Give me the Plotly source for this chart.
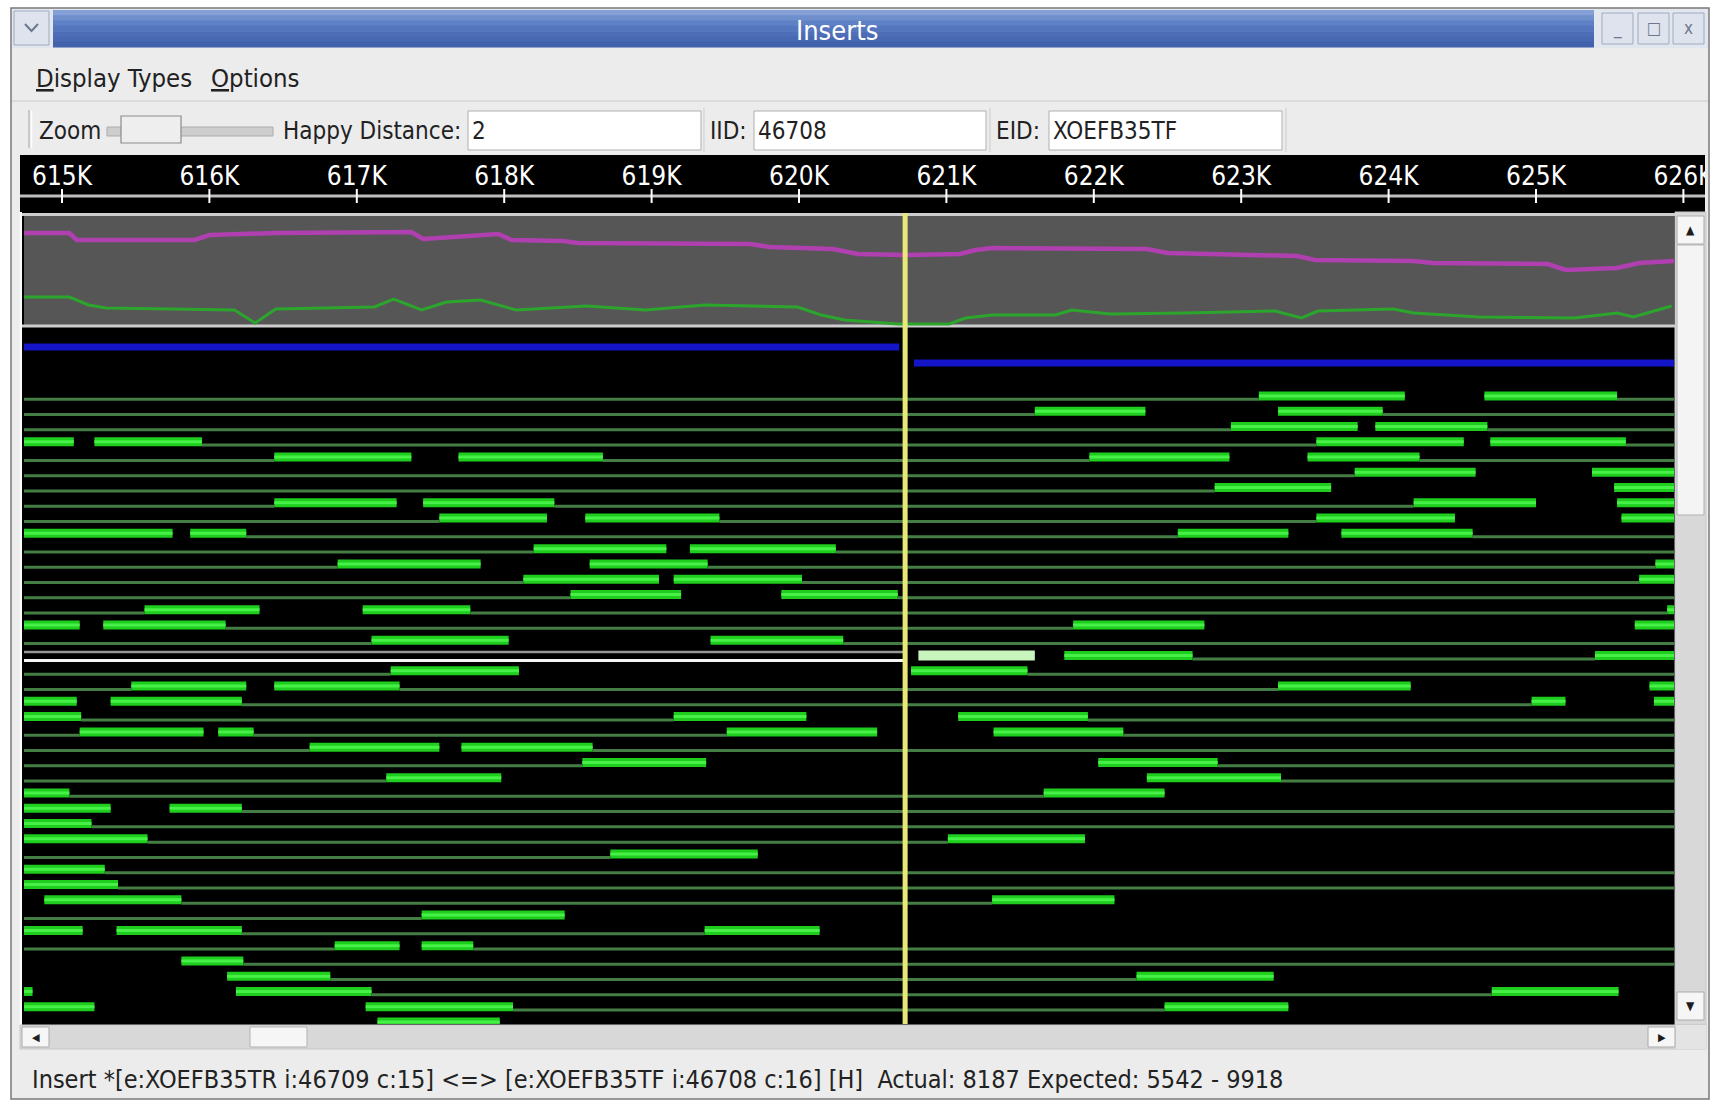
import plotly.graph_objects as go

W, H = 1718, 1102

# ---------------------------------------------------------------- data
# ruler ticks (kb)
tick_kb = [615, 616, 617, 618, 619, 620, 621, 622, 623, 624, 625, 626]
tick_labels = ["615K", "616K", "617K", "618K", "619K", "620K",
               "621K", "622K", "623K", "624K", "625K", "626K"]

# position of the selected-insert cursor (kb)
cursor_kb = 620.72

# contigs of the scaffold (kb)
contig_start = [614.6, 620.78]
contig_end = [620.68, 626.1]

# reads (mate pairs) per layout row, as (start kb, end kb)
reads_by_row = [
    [(623.12, 624.11), (624.65, 625.55)],
    [(621.60, 622.35), (623.25, 623.96)],
    [(622.93, 623.79), (623.91, 624.67)],
    [(614.6, 615.08), (615.22, 615.95), (623.51, 624.51), (624.69, 625.61)],
    [(616.44, 617.37), (617.69, 618.67), (621.97, 622.92), (623.45, 624.21)],
    [(623.77, 624.59), (625.38, 626.1)],
    [(622.82, 623.61), (625.53, 626.1)],
    [(616.44, 617.27), (617.45, 618.34), (624.17, 625.00), (625.55, 626.1)],
    [(617.56, 618.29), (618.55, 619.46), (623.51, 624.45), (625.58, 626.1)],
    [(614.6, 615.75), (615.87, 616.25), (622.57, 623.32), (623.68, 624.57)],
    [(618.20, 619.10), (619.26, 620.25)],
    [(616.87, 617.84), (618.58, 619.38), (625.81, 626.1)],
    [(618.13, 619.05), (619.15, 620.02), (625.70, 626.1)],
    [(618.45, 619.20), (619.88, 620.67)],
    [(615.56, 616.34), (617.04, 617.77), (625.89, 626.1)],
    [(614.6, 615.12), (615.28, 616.11), (621.86, 622.75), (625.67, 626.1)],
    [(617.10, 618.03), (619.40, 620.30)],
    [(621.80, 622.67), (625.40, 626.1)],
    [(617.23, 618.10), (620.76, 621.55)],
    [(615.47, 616.25), (616.44, 617.29), (623.25, 624.15), (625.77, 626.1)],
    [(614.6, 615.10), (615.33, 616.22), (624.97, 625.20), (625.80, 626.1)],
    [(614.6, 615.13), (619.15, 620.05), (621.08, 621.96)],
    [(615.12, 615.96), (616.06, 616.30), (619.51, 620.53), (621.32, 622.20)],
    [(616.68, 617.56), (617.71, 618.60)],
    [(618.53, 619.37), (622.03, 622.84)],
    [(617.20, 617.98), (622.36, 623.27)],
    [(614.6, 615.05), (621.66, 622.48)],
    [(614.6, 615.33), (615.73, 616.22)],
    [(614.6, 615.20)],
    [(614.6, 615.58), (621.01, 621.94)],
    [(618.72, 619.72)],
    [(614.6, 615.29)],
    [(614.6, 615.38)],
    [(614.88, 615.81), (621.31, 622.14)],
    [(617.44, 618.41)],
    [(614.6, 615.14), (615.37, 616.22), (619.36, 620.14)],
    [(616.85, 617.29), (617.44, 617.79)],
    [(615.81, 616.23)],
    [(616.12, 616.82), (622.29, 623.22)],
    [(614.6, 614.80), (616.18, 617.10), (624.70, 625.56)],
    [(614.6, 615.22), (617.06, 618.06), (622.48, 623.32)],
    [(617.14, 617.97)],
]

# insert spans joining the mates, per layout row (start kb, end kb)
links_by_row = [
    [(614.6, 623.12), (625.55, 626.1)],
    [(614.6, 621.60), (623.96, 626.1)],
    [(614.6, 622.93), (624.67, 626.1)],
    [(615.95, 623.51), (625.61, 626.1)],
    [(614.6, 616.44), (618.67, 621.97), (624.21, 626.1)],
    [(614.6, 623.77)],
    [(614.6, 622.82)],
    [(614.6, 616.44), (618.34, 624.17)],
    [(614.6, 617.56), (619.46, 623.51)],
    [(616.25, 622.57), (624.57, 626.1)],
    [(614.6, 618.20), (620.25, 626.1)],
    [(614.6, 616.87), (619.38, 625.81)],
    [(614.6, 618.13), (620.02, 625.70)],
    [(614.6, 618.45), (620.67, 626.1)],
    [(614.6, 615.56), (617.77, 625.89)],
    [(616.11, 621.86)],
    [(614.6, 617.10), (620.30, 626.1)],
    [(622.67, 625.40)],
    [(614.6, 617.23), (621.55, 626.1)],
    [(614.6, 615.47), (617.29, 623.25)],
    [(616.22, 624.97)],
    [(615.13, 619.15), (621.96, 626.1)],
    [(614.6, 615.12), (616.30, 619.51), (622.20, 626.1)],
    [(614.6, 616.68), (618.60, 626.1)],
    [(614.6, 618.53), (622.84, 626.1)],
    [(614.6, 617.20), (623.27, 626.1)],
    [(615.05, 621.66)],
    [(616.22, 626.1)],
    [(615.20, 626.1)],
    [(615.58, 621.01)],
    [(614.6, 618.72)],
    [(615.29, 626.1)],
    [(615.38, 626.1)],
    [(615.81, 621.31)],
    [(614.6, 617.44)],
    [(616.22, 619.36)],
    [(614.6, 616.85), (617.79, 626.1)],
    [(616.23, 626.1)],
    [(616.82, 622.29)],
    [(617.10, 624.70)],
    [(618.06, 622.48)],
    [],
]

# the selected insert (XOEFB35TR <=> XOEFB35TF)
selected_row = 17
selected_read = (620.81, 621.60)
selected_link = (614.6, 620.72)

# coverage tracks: insert (clone) coverage and read coverage
insert_cov_kb = [614.74, 615.05, 615.10, 615.90, 616.00, 616.45, 617.37, 617.45,
                 617.76, 617.96, 618.05, 618.40, 618.50, 619.67, 619.80, 620.23,
                 620.40, 620.72, 621.09, 621.20, 621.31, 622.36, 622.50, 623.38,
                 623.50, 624.17, 624.30, 625.08, 625.20, 625.55, 625.70, 625.94]
insert_cov = [37.6, 37.6, 34.8, 34.8, 36.8, 37.6, 38.0, 35.2,
              36.4, 37.2, 34.8, 34.4, 33.6, 33.2, 32.0, 31.2,
              29.2, 28.8, 29.2, 30.8, 31.6, 31.2, 29.6, 28.4,
              26.8, 26.4, 25.6, 25.2, 22.8, 23.6, 25.6, 26.4]

read_cov_kb = [614.74, 615.05, 615.18, 615.30, 616.17, 616.31, 616.45, 617.12,
               617.25, 617.44, 617.61, 617.84, 618.08, 618.56, 618.96, 619.36,
               619.99, 620.15, 620.31, 620.67, 621.02, 621.13, 621.31, 621.74,
               621.85, 622.11, 622.62, 623.23, 623.41, 623.52, 624.03, 624.17,
               624.61, 625.26, 625.55, 625.66, 625.92]
read_cov = [12.0, 12.0, 8.8, 7.6, 6.8, 1.6, 7.2, 8.0,
            11.2, 6.8, 10.0, 10.8, 6.8, 8.4, 6.8, 8.8,
            8.0, 4.8, 2.8, 1.2, 1.2, 3.6, 4.8, 4.8,
            6.8, 5.2, 5.6, 6.4, 3.6, 6.4, 7.2, 5.6,
            4.0, 3.6, 5.6, 4.0, 8.4]

# widget texts
window_title = "Inserts"
happy_distance = "2"
iid_value = "46708"
eid_value = "XOEFB35TF"
status_text = ("Insert *[e:XOEFB35TR i:46709 c:15] &lt;=&gt; [e:XOEFB35TF i:46708 c:16] [H]"
               "  Actual: 8187 Expected: 5542 - 9918")

# ---------------------------------------------------------------- geometry
UI_FONT = "DejaVu Sans Condensed, DejaVu Sans, sans-serif"

KB0_PX, PX_PER_KB = 62.0, 147.4       # screen x of 615K and pixels per kb
ROW0_PX, ROW_PX = 399.3, 15.27         # screen y of layout row 0 and row pitch
COV_PX_PER_UNIT = 2.5


def kb_at(px):
    return 615 + (px - KB0_PX) / PX_PER_KB


def row_at(py):
    return (py - ROW0_PX) / ROW_PX


def fx(px):
    return px / W


def fy(py):
    return 1 - py / H


MAIN_X = (24, 1674)
MAIN_Y = (327, 1024)
COV_Y = (216, 327)
RULER_X = (20, 1705)
RULER_Y = (155, 212)

READ_LIFT = 0.22
CONTIG_LANES = [row_at(347), row_at(363)]

fig = go.Figure()

# contigs
cx, cy = [], []
for s, e, lane in zip(contig_start, contig_end, CONTIG_LANES):
    cx += [s, e, None]
    cy += [lane, lane, None]
fig.add_trace(go.Scatter(x=cx, y=cy, mode="lines",
                         line=dict(color="rgb(20,20,200)", width=7),
                         xaxis="x", yaxis="y", hoverinfo="skip"))

# insert spans
lx, ly = [], []
for r, segs in enumerate(links_by_row):
    for a, b in segs:
        lx += [a, b, None]
        ly += [r, r, None]
fig.add_trace(go.Scatter(x=lx, y=ly, mode="lines",
                         line=dict(color="rgb(68,126,68)", width=3),
                         xaxis="x", yaxis="y", hoverinfo="skip"))

# reads
rx, ry = [], []
for r, segs in enumerate(reads_by_row):
    for a, b in segs:
        rx += [a, b, None]
        ry += [r - READ_LIFT, r - READ_LIFT, None]
fig.add_trace(go.Scatter(x=rx, y=ry, mode="lines",
                         line=dict(color="rgb(30,205,30)", width=9),
                         xaxis="x", yaxis="y", hoverinfo="skip"))
fig.add_trace(go.Scatter(x=rx, y=ry, mode="lines",
                         line=dict(color="rgb(70,240,70)", width=3),
                         xaxis="x", yaxis="y", hoverinfo="skip"))

# selected insert highlight
fig.add_trace(go.Scatter(x=list(selected_link), y=[selected_row - 0.45] * 2, mode="lines",
                         line=dict(color="rgb(150,150,150)", width=2.5),
                         xaxis="x", yaxis="y", hoverinfo="skip"))
fig.add_trace(go.Scatter(x=list(selected_link), y=[selected_row + 0.1] * 2, mode="lines",
                         line=dict(color="rgb(245,245,245)", width=3),
                         xaxis="x", yaxis="y", hoverinfo="skip"))
fig.add_trace(go.Scatter(x=list(selected_read), y=[selected_row - READ_LIFT] * 2, mode="lines",
                         line=dict(color="rgb(200,245,190)", width=10),
                         xaxis="x", yaxis="y", hoverinfo="skip"))

# coverage tracks
fig.add_trace(go.Scatter(x=insert_cov_kb, y=insert_cov, mode="lines",
                         line=dict(color="rgb(176,64,176)", width=4.5),
                         xaxis="x2", yaxis="y2", hoverinfo="skip"))
fig.add_trace(go.Scatter(x=read_cov_kb, y=read_cov, mode="lines",
                         line=dict(color="rgb(44,165,44)", width=3),
                         xaxis="x2", yaxis="y2", hoverinfo="skip"))

# ruler
RULER_BASE = (RULER_Y[1] - 196) / (RULER_Y[1] - RULER_Y[0])
RULER_TEXT = (RULER_Y[1] - 178) / (RULER_Y[1] - RULER_Y[0])
fig.add_trace(go.Scatter(x=[tick_kb[0] - 1, tick_kb[-1] + 1], y=[RULER_BASE] * 2, mode="lines",
                         line=dict(color="rgb(190,190,190)", width=3),
                         xaxis="x3", yaxis="y3", hoverinfo="skip"))
fig.add_trace(go.Scatter(x=tick_kb, y=[RULER_BASE] * len(tick_kb), mode="markers",
                         marker=dict(symbol="line-ns", size=10,
                                     line=dict(color="white", width=2)),
                         xaxis="x3", yaxis="y3", hoverinfo="skip"))
fig.add_trace(go.Scatter(x=tick_kb, y=[RULER_TEXT] * len(tick_kb), mode="text",
                         text=tick_labels, textposition="middle center",
                         textfont=dict(family=UI_FONT, size=26, color="white"),
                         cliponaxis=True,
                         xaxis="x3", yaxis="y3", hoverinfo="skip"))

# ---------------------------------------------------------------- window chrome
shapes = []
annotations = []


def box(x0, y0, x1, y1, fill, line_color=None, line_width=0, layer="below"):
    shapes.append(dict(type="rect", xref="paper", yref="paper",
                       x0=fx(x0), x1=fx(x1), y0=fy(y1), y1=fy(y0),
                       fillcolor=fill, layer=layer,
                       line=dict(color=line_color or fill, width=line_width)))


def hline(x0, x1, y, color, width, layer="below"):
    shapes.append(dict(type="line", xref="paper", yref="paper",
                       x0=fx(x0), x1=fx(x1), y0=fy(y), y1=fy(y),
                       line=dict(color=color, width=width), layer=layer))


def vline(x, y0, y1, color, width, layer="below"):
    shapes.append(dict(type="line", xref="paper", yref="paper",
                       x0=fx(x), x1=fx(x), y0=fy(y0), y1=fy(y1),
                       line=dict(color=color, width=width), layer=layer))


def label(x, y, text, size, color="rgb(34,34,34)", anchor="left"):
    annotations.append(dict(xref="paper", yref="paper", x=fx(x), y=fy(y), text=text,
                            showarrow=False, xanchor=anchor, yanchor="middle",
                            borderpad=0,
                            font=dict(family=UI_FONT, size=size, color=color)))


# window body
box(11, 8, 1709, 1099, "rgb(236,236,236)", "rgb(120,120,120)", 1.5)
# title bar
box(12, 9, 1708, 48, "rgb(226,230,238)")
bands = ["rgb(132,160,214)", "rgb(110,142,204)", "rgb(94,128,196)",
         "rgb(84,118,190)", "rgb(78,111,184)", "rgb(72,104,178)", "rgb(66,98,172)"]
y = 10.0
step = 37.0 / len(bands)
for c in bands:
    box(53, y, 1594, y + step + 0.6, c)
    y += step
box(14, 11, 49, 45, "rgb(222,227,238)", "rgb(160,170,190)", 1)
shapes.append(dict(type="path", xref="paper", yref="paper",
                   path=f"M {fx(25)},{fy(24)} L {fx(31.5)},{fy(31)} L {fx(38)},{fy(24)}",
                   line=dict(color="rgb(110,120,140)", width=2), layer="below"))
for bx0, sym in [(1602, "_"), (1638, "□"), (1673, "x")]:
    box(bx0, 13, bx0 + 31, 44, "rgb(222,227,238)", "rgb(160,170,190)", 1)
    label(bx0 + 15.5, 28, sym, 17, "rgb(110,120,140)", "center")
label(837, 30, window_title, 27, "white", "center")

# menu bar
label(35, 78, "<u>D</u>isplay Types", 25.5)
label(210, 78, "<u>O</u>ptions", 25.5)
hline(12, 1708, 101, "rgb(214,214,214)", 1.5)

# tool bar
vline(29, 110, 148, "rgb(190,190,190)", 1.5)
vline(31.5, 110, 148, "rgb(252,252,252)", 1.5)
label(38, 131, "Zoom", 24)
box(107, 127, 273, 136, "rgb(205,205,205)", "rgb(172,172,172)", 1)
box(121, 116, 181, 143, "rgb(238,238,238)", "rgb(140,140,140)", 1.2)
label(282, 131, "Happy Distance:", 24)
box(468, 111, 701, 150, "white", "rgb(175,175,175)", 1)
label(471, 131, happy_distance, 24)
vline(704, 108, 152, "rgb(205,205,205)", 1)
label(709, 131, "IID:", 24)
box(754, 111, 986, 150, "white", "rgb(175,175,175)", 1)
label(757, 131, iid_value, 24)
vline(990, 108, 152, "rgb(205,205,205)", 1)
label(995, 131, "EID:", 24)
box(1049, 111, 1282, 150, "white", "rgb(175,175,175)", 1)
label(1052, 131, eid_value, 24)
vline(1286, 108, 152, "rgb(205,205,205)", 1)

# ruler band
box(RULER_X[0], RULER_Y[0], RULER_X[1], RULER_Y[1], "black")
# coverage + insert panels
vline(21, 212, 1026, "rgb(252,252,252)", 2.5)
box(22, 212, 1675, 1025, "black")
box(MAIN_X[0], COV_Y[0], MAIN_X[1], COV_Y[1], "rgb(86,86,86)")
hline(22, 1675, 214.5, "rgb(205,205,205)", 3)
hline(22, 1675, 326, "rgb(205,205,205)", 3)

# vertical scrollbar
box(1675, 212, 1706, 1025, "rgb(216,216,216)", "rgb(200,200,200)", 1)
box(1677, 216, 1704, 244, "rgb(246,246,246)", "rgb(170,170,170)", 1)
label(1690.5, 230, "▲", 12, "rgb(30,30,30)", "center")
box(1677, 245, 1704, 515, "rgb(244,244,244)", "rgb(178,178,178)", 1)
box(1677, 992, 1704, 1020, "rgb(246,246,246)", "rgb(170,170,170)", 1)
label(1690.5, 1006, "▼", 12, "rgb(30,30,30)", "center")

# horizontal scrollbar
box(20, 1025, 1706, 1049, "rgb(216,216,216)", "rgb(200,200,200)", 1)
box(22, 1027, 49, 1047, "rgb(246,246,246)", "rgb(170,170,170)", 1)
label(35.5, 1037, "◀", 11, "rgb(30,30,30)", "center")
box(250, 1027, 307, 1047, "rgb(246,246,246)", "rgb(178,178,178)", 1)
box(1648, 1027, 1675, 1047, "rgb(246,246,246)", "rgb(170,170,170)", 1)
label(1661.5, 1037, "▶", 11, "rgb(30,30,30)", "center")
box(1676, 1025, 1706, 1049, "rgb(228,228,228)")

# status line
label(31, 1079, status_text, 25)

# cursor line through coverage and insert panels
shapes.append(dict(type="line", xref="x", yref="paper", x0=cursor_kb, x1=cursor_kb,
                   y0=fy(MAIN_Y[1]), y1=fy(213), layer="above",
                   line=dict(color="rgb(232,232,120)", width=5)))

axis = dict(visible=False, showgrid=False, zeroline=False, fixedrange=True)
fig.update_layout(
    width=W, height=H, autosize=False,
    margin=dict(l=0, r=0, t=0, b=0, pad=0),
    paper_bgcolor="white", plot_bgcolor="rgba(0,0,0,0)",
    showlegend=False, hovermode=False,
    xaxis=dict(axis, domain=[fx(MAIN_X[0]), fx(MAIN_X[1])],
               range=[kb_at(MAIN_X[0]), kb_at(MAIN_X[1])], anchor="y"),
    yaxis=dict(axis, domain=[fy(MAIN_Y[1]), fy(MAIN_Y[0])],
               range=[row_at(MAIN_Y[1]), row_at(MAIN_Y[0])], anchor="x"),
    xaxis2=dict(axis, domain=[fx(MAIN_X[0]), fx(MAIN_X[1])],
                range=[kb_at(MAIN_X[0]), kb_at(MAIN_X[1])], anchor="y2"),
    yaxis2=dict(axis, domain=[fy(COV_Y[1]), fy(COV_Y[0])],
                range=[0, (COV_Y[1] - COV_Y[0]) / COV_PX_PER_UNIT], anchor="x2"),
    xaxis3=dict(axis, domain=[fx(RULER_X[0]), fx(RULER_X[1])],
                range=[kb_at(RULER_X[0]), kb_at(RULER_X[1])], anchor="y3"),
    yaxis3=dict(axis, domain=[fy(RULER_Y[1]), fy(RULER_Y[0])],
                range=[0, 1], anchor="x3"),
    shapes=shapes,
    annotations=annotations,
)

fig.write_html("out.html", config={"displayModeBar": False, "staticPlot": True})
